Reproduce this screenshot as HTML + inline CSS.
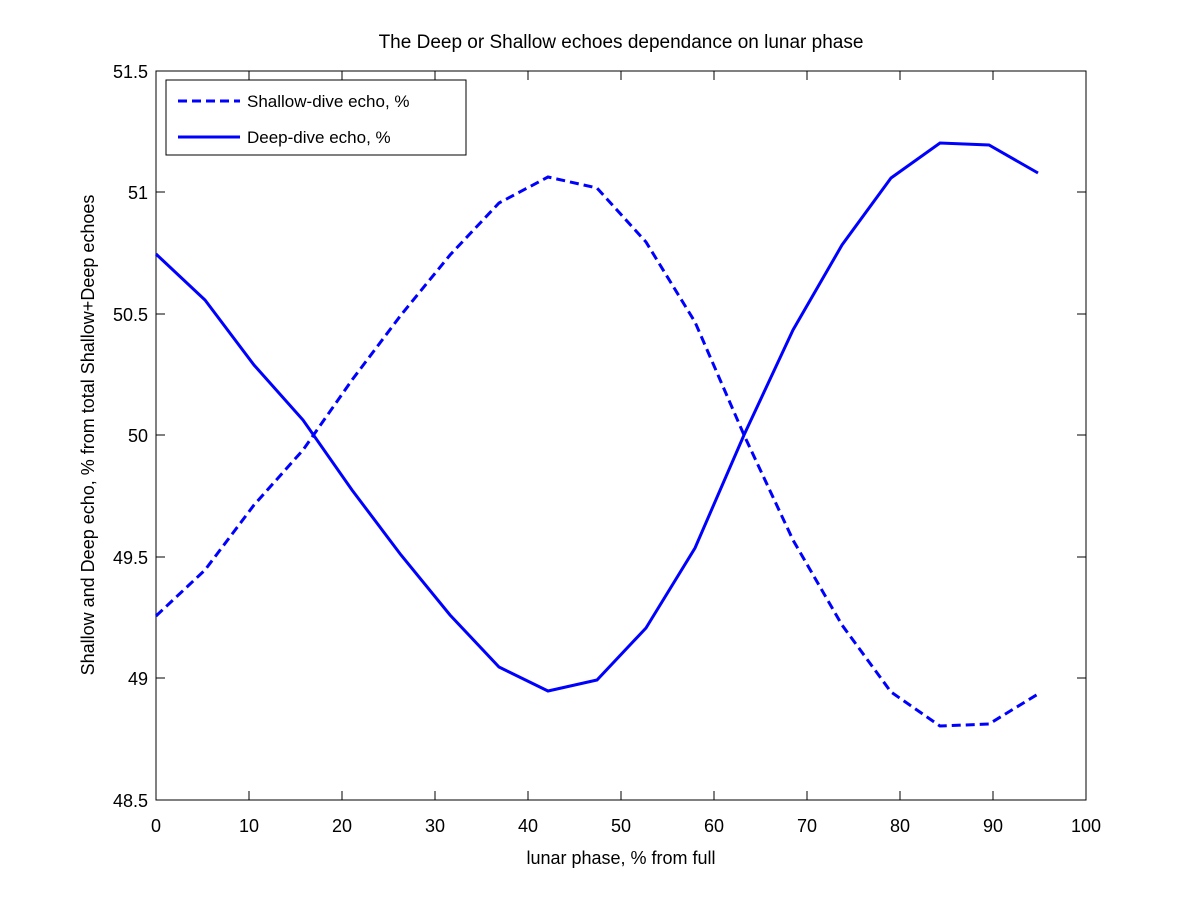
<!DOCTYPE html>
<html><head><meta charset="utf-8"><style>
html,body{margin:0;padding:0;background:#fff;}
svg{display:block;font-family:"Liberation Sans",sans-serif;}
</style></head><body>
<svg width="1200" height="900" viewBox="0 0 1200 900" xmlns="http://www.w3.org/2000/svg">
<rect width="1200" height="900" fill="#fff"/>
<rect x="156" y="71" width="930" height="729" fill="none" stroke="#000" stroke-width="1"/>
<g stroke="#000" stroke-width="1">
<line x1="156" y1="800" x2="156" y2="791"/><line x1="249" y1="800" x2="249" y2="791"/><line x1="342" y1="800" x2="342" y2="791"/><line x1="435" y1="800" x2="435" y2="791"/><line x1="528" y1="800" x2="528" y2="791"/><line x1="621" y1="800" x2="621" y2="791"/><line x1="714" y1="800" x2="714" y2="791"/><line x1="807" y1="800" x2="807" y2="791"/><line x1="900" y1="800" x2="900" y2="791"/><line x1="993" y1="800" x2="993" y2="791"/><line x1="1086" y1="800" x2="1086" y2="791"/>
<line x1="156" y1="71" x2="156" y2="80"/><line x1="249" y1="71" x2="249" y2="80"/><line x1="342" y1="71" x2="342" y2="80"/><line x1="435" y1="71" x2="435" y2="80"/><line x1="528" y1="71" x2="528" y2="80"/><line x1="621" y1="71" x2="621" y2="80"/><line x1="714" y1="71" x2="714" y2="80"/><line x1="807" y1="71" x2="807" y2="80"/><line x1="900" y1="71" x2="900" y2="80"/><line x1="993" y1="71" x2="993" y2="80"/><line x1="1086" y1="71" x2="1086" y2="80"/>
<line x1="156" y1="71" x2="165" y2="71"/><line x1="156" y1="192" x2="165" y2="192"/><line x1="156" y1="314" x2="165" y2="314"/><line x1="156" y1="435" x2="165" y2="435"/><line x1="156" y1="557" x2="165" y2="557"/><line x1="156" y1="678" x2="165" y2="678"/><line x1="156" y1="800" x2="165" y2="800"/>
<line x1="1086" y1="71" x2="1077" y2="71"/><line x1="1086" y1="192" x2="1077" y2="192"/><line x1="1086" y1="314" x2="1077" y2="314"/><line x1="1086" y1="435" x2="1077" y2="435"/><line x1="1086" y1="557" x2="1077" y2="557"/><line x1="1086" y1="678" x2="1077" y2="678"/><line x1="1086" y1="800" x2="1077" y2="800"/>
</g>
<g font-size="18" fill="#000" text-anchor="middle">
<text x="156" y="832">0</text><text x="249" y="832">10</text><text x="342" y="832">20</text><text x="435" y="832">30</text><text x="528" y="832">40</text><text x="621" y="832">50</text><text x="714" y="832">60</text><text x="807" y="832">70</text><text x="900" y="832">80</text><text x="993" y="832">90</text><text x="1086" y="832">100</text>
</g>
<g font-size="18" fill="#000" text-anchor="end">
<text x="148" y="78">51.5</text><text x="148" y="199">51</text><text x="148" y="321">50.5</text><text x="148" y="442">50</text><text x="148" y="564">49.5</text><text x="148" y="685">49</text><text x="148" y="807">48.5</text>
</g>
<text x="621" y="864" font-size="18" text-anchor="middle">lunar phase, % from full</text>
<text x="621" y="48" font-size="19" text-anchor="middle">The Deep or Shallow echoes dependance on lunar phase</text>
<text transform="translate(94,435) rotate(-90)" font-size="18" text-anchor="middle">Shallow and Deep echo, % from total Shallow+Deep echoes</text>
<polyline fill="none" stroke="#0000ff" stroke-width="3" points="156,254 205,300 254,365 303,420 352,490 401,555 450,615 499,667 548,691 597,680 646,628 695,548 744,435 793,330 842,245 891,178 940,143 989,145 1038,173"/>
<polyline fill="none" stroke="#0000ff" stroke-width="3" stroke-dasharray="9,5" points="156,616 205,570 254,505 303,450 352,380 401,315 450,255 499,203 548,177 597,188 646,242 695,322 744,435 793,540 842,625 891,692 940,726 989,724 1038,694"/>
<rect x="166" y="80" width="300" height="75" fill="#fff" stroke="#000" stroke-width="1"/>
<line x1="178" y1="101" x2="240" y2="101" stroke="#0000ff" stroke-width="3" stroke-dasharray="9,5"/>
<line x1="178" y1="137" x2="240" y2="137" stroke="#0000ff" stroke-width="3"/>
<text x="247" y="107" font-size="17">Shallow-dive echo, %</text>
<text x="247" y="143" font-size="17">Deep-dive echo, %</text>
</svg>
</body></html>
